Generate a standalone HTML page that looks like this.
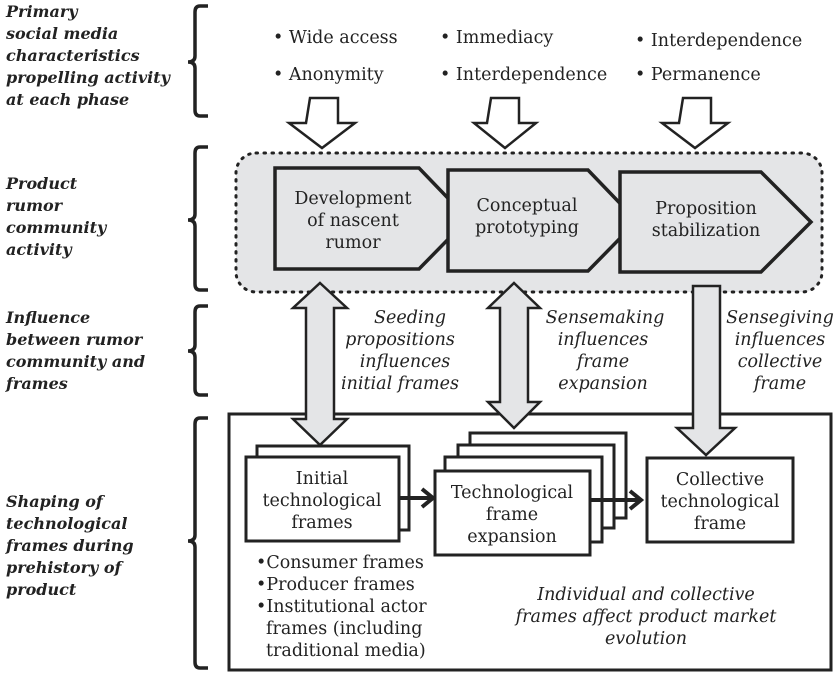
<!DOCTYPE html>
<html><head><meta charset="utf-8"><style>
html,body{margin:0;padding:0;background:#fff;}
svg{display:block;}
.l{font-family:"DejaVu Serif",serif;font-weight:bold;font-style:italic;font-size:16px;fill:#222;}
.t{font-family:"DejaVu Serif",serif;font-size:17.5px;fill:#222;}
.i{font-family:"DejaVu Serif",serif;font-style:italic;font-size:17.5px;fill:#222;}
</style></head><body>
<svg width="840" height="677" viewBox="0 0 840 677" xmlns="http://www.w3.org/2000/svg">
<g fill="none" stroke="#222" stroke-width="3.5">
<path d="M208,6 H200 Q195,6 195,12 V56 Q195,62 188,62 Q195,62 195,68 V110 Q195,116 200,116 H208"/>
<path d="M208,147 H200 Q195,147 195,153 V214 Q195,220 188,220 Q195,220 195,226 V284 Q195,290 200,290 H208"/>
<path d="M208,306 H200 Q195,306 195,312 V345 Q195,351 188,351 Q195,351 195,357 V389 Q195,395 200,395 H208"/>
<path d="M208,418 H200 Q195,418 195,424 V535 Q195,541 188,541 Q195,541 195,547 V662 Q195,668 200,668 H208"/>
</g>
<g class="l">
<text x="6" y="17">Primary</text><text x="6" y="39">social media</text><text x="6" y="61">characteristics</text><text x="6" y="83">propelling activity</text><text x="6" y="105">at each phase</text>
<text x="6" y="189">Product</text><text x="6" y="211">rumor</text><text x="6" y="233">community</text><text x="6" y="255">activity</text>
<text x="6" y="323">Influence</text><text x="6" y="345">between rumor</text><text x="6" y="367">community and</text><text x="6" y="389">frames</text>
<text x="6" y="507">Shaping of</text><text x="6" y="529">technological</text><text x="6" y="551">frames during</text><text x="6" y="573">prehistory of</text><text x="6" y="595">product</text>
</g>
<g class="t">
<text x="273" y="43">• Wide access</text><text x="273" y="80">• Anonymity</text>
<text x="440" y="43">• Immediacy</text><text x="440" y="80">• Interdependence</text>
<text x="635" y="46">• Interdependence</text><text x="635" y="80">• Permanence</text>
</g>
<g fill="#fff" stroke="#222" stroke-width="2.5">
<path d="M310,98 H338 V123 H355 L322,148 L289,123 H306 Z"/>
<path d="M491,98 H519 V123 H536 L505,148 L474,123 H487 Z"/>
<path d="M683,98 H711 V123 H728 L695,148 L662,123 H679 Z"/>
</g>
<rect x="236" y="153" width="586" height="139" rx="20" fill="#e4e5e7" stroke="#222" stroke-width="3" stroke-dasharray="1.5 6.5" stroke-linecap="round"/>
<g fill="#e4e5e7" stroke="#222" stroke-width="3.5" stroke-linejoin="miter">
<path d="M275,168 H419 L468,219 L419,269 H275 Z"/>
<path d="M448,170 H588 L637,221 L588,271 H448 Z"/>
<path d="M620,172 H761 L811,222 L761,272 H620 Z"/>
</g>
<g class="t" text-anchor="middle">
<text x="353" y="204">Development</text><text x="353" y="226">of nascent</text><text x="353" y="248">rumor</text>
<text x="527" y="211">Conceptual</text><text x="527" y="233">prototyping</text>
<text x="706" y="214">Proposition</text><text x="706" y="236">stabilization</text>
</g>
<rect x="229" y="414" width="602" height="256" fill="#fff" stroke="#222" stroke-width="3"/>
<g fill="#e4e5e7" stroke="#222" stroke-width="2.5">
<path d="M320,283 L347,308 H334 V419 H347 L320,445 L293,419 H306 V308 H293 Z"/>
<path d="M514,283 L540,308 H528 V402 H540 L514,428 L488,402 H500 V308 H488 Z"/>
<path d="M693,286 H720 V428 H735 L706,455 L677,428 H693 Z"/>
</g>
<g class="i" text-anchor="middle">
<text x="410" y="323">Seeding</text><text x="400" y="345">propositions</text><text x="405" y="367">influences</text><text x="400" y="389">initial frames</text>
<text x="605" y="323">Sensemaking</text><text x="603" y="345">influences</text><text x="603" y="367">frame</text><text x="603" y="389">expansion</text>
<text x="780" y="323">Sensegiving</text><text x="780" y="345">influences</text><text x="780" y="367">collective</text><text x="780" y="389">frame</text>
</g>
<g fill="#fff" stroke="#222" stroke-width="3">
<rect x="257" y="446" width="152" height="84"/>
<rect x="246" y="457" width="153" height="84"/>
<rect x="470" y="433" width="156" height="85"/>
<rect x="458" y="445" width="156" height="83"/>
<rect x="445" y="457" width="157" height="85"/>
<rect x="435" y="471" width="155" height="84"/>
<rect x="647" y="458" width="146" height="84"/>
</g>
<g stroke="#222" stroke-width="4" fill="none">
<path d="M399,498 H432 M422,489 L433,498 L422,507"/>
<path d="M590,500 H640 M630,491 L641,500 L630,509"/>
</g>
<g class="t" text-anchor="middle">
<text x="322" y="484">Initial</text><text x="322" y="506">technological</text><text x="322" y="528">frames</text>
<text x="512" y="498">Technological</text><text x="512" y="520">frame</text><text x="512" y="542">expansion</text>
<text x="720" y="485">Collective</text><text x="720" y="507">technological</text><text x="720" y="529">frame</text>
<text x="646" y="600" class="i">Individual and collective</text>
<text x="646" y="622" class="i">frames affect product market</text>
<text x="646" y="644" class="i">evolution</text>
</g>
<g class="t">
<text x="256" y="568">•Consumer frames</text>
<text x="256" y="590">•Producer frames</text>
<text x="256" y="612">•Institutional actor</text>
<text x="266" y="634">frames (including</text>
<text x="266" y="656">traditional media)</text>
</g>
</svg>
</body></html>
